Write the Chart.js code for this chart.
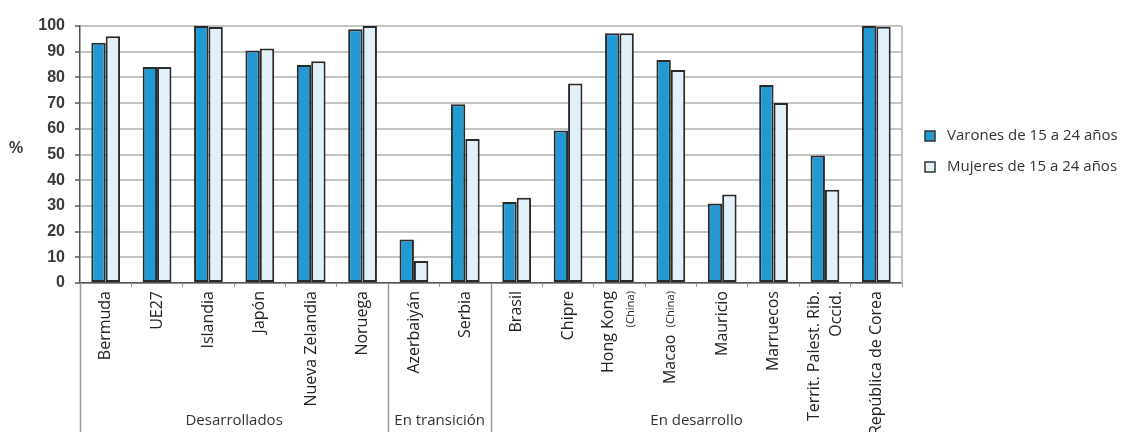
<!DOCTYPE html>
<html>
<head>
<meta charset="utf-8">
<script src="https://cdn.jsdelivr.net/npm/chart.js@4/dist/chart.umd.min.js"></script>
<style>
  body { margin: 0; background: #fff; }
  #wrap { width: 1122px; height: 432px; }
</style>
</head>
<body>
<div id="wrap"><canvas id="grafico"></canvas></div>
<script>
// categorías (cada elemento = líneas de la etiqueta; "(China)" va en letra pequeña)
const categorias = [
    ['Bermuda'], ['UE27'], ['Islandia'], ['Japón'], ['Nueva Zelandia'], ['Noruega'],
    ['Azerbaiyán'], ['Serbia'],
    ['Brasil'], ['Chipre'], ['Hong Kong', '(China)'], ['Macao (China)'], ['Mauricio'],
    ['Marruecos'], ['Territ. Palest. Rib.', 'Occid.'], ['República de Corea']
];
const varones = [93.5, 84, 100, 90.5, 84.8, 98.7, 16.9, 69.6, 31.5, 59.3, 97.2, 86.8, 30.9, 77, 49.6, 100];
const mujeres = [96, 84, 99.6, 91.2, 86.3, 100, 8.6, 56, 33.2, 77.6, 97.2, 82.9, 34.4, 70, 36.3, 99.7];
const grupos = ['Desarrollados', 'En transición', 'En desarrollo'];
const gruposInicio = [0, 6, 8];   // primer índice de cada grupo
const seriesNombres = ['Varones de 15 a 24 años', 'Mujeres de 15 a 24 años'];
const colores = ['#2299d3', '#e1f0f9'];

const fuente = '"Open Sans", "Noto Sans", sans-serif';

function dibujarLinea(ctx, texto, size) {
    // texto alineado a la derecha (arriba tras rotar), "(China)" más pequeño
    const partes = texto.split(/(\(China\))/).filter(p => p.length);
    let off = 0;
    for (let i = partes.length - 1; i >= 0; i--) {
        const p = partes[i];
        const s = p === '(China)' ? size * 0.7 : size;
        ctx.font = s + 'px ' + fuente;
        ctx.fillText(p, -off, 0);
        off += ctx.measureText(p).width + (p === '(China)' ? 3 : 0);
    }
}

const extras = {
    id: 'extras',
    afterDraw(chart) {
        const ctx = chart.ctx;
        const area = chart.chartArea;
        const x = chart.scales.x;
        const H = chart.height;
        ctx.save();

        // borde derecho del área
        ctx.strokeStyle = '#c4c4c4';
        ctx.lineWidth = 2;
        ctx.beginPath();
        ctx.moveTo(area.right, area.top);
        ctx.lineTo(area.right, area.bottom);
        ctx.stroke();

        // "%"
        ctx.fillStyle = '#3a3a3a';
        ctx.font = 'bold 16px "Liberation Sans", Arial, sans-serif';
        ctx.textAlign = 'left';
        ctx.textBaseline = 'middle';
        ctx.fillText('%', 9, 149);

        // separadores de grupos
        const limites = gruposInicio.map(i => i === 0 ? area.left :
            (x.getPixelForValue(i - 1) + x.getPixelForValue(i)) / 2);
        ctx.strokeStyle = '#9a9a9a';
        ctx.lineWidth = 1.5;
        limites.forEach(px => {
            ctx.beginPath();
            ctx.moveTo(Math.round(px) + 0.5, area.bottom);
            ctx.lineTo(Math.round(px) + 0.5, H);
            ctx.stroke();
        });

        // etiquetas de categorías (verticales)
        ctx.fillStyle = '#222';
        ctx.textAlign = 'right';
        ctx.textBaseline = 'middle';
        categorias.forEach((lineas, i) => {
            const cx = x.getPixelForValue(i);
            lineas.forEach((ln, j) => {
                const dx = (j - (lineas.length - 1) / 2) * 22;
                ctx.save();
                ctx.translate(cx + dx, area.bottom + 8);
                ctx.rotate(-Math.PI / 2);
                dibujarLinea(ctx, ln, 16);
                ctx.restore();
            });
        });

        // etiquetas de grupos
        ctx.font = '15px ' + fuente;
        ctx.textAlign = 'center';
        ctx.fillStyle = '#333';
        grupos.forEach((g, k) => {
            const a = limites[k];
            const b = k + 1 < limites.length ? limites[k + 1] : area.right;
            ctx.fillText(g, (a + b) / 2, 421);
        });

        // leyenda
        ctx.textAlign = 'left';
        seriesNombres.forEach((n, k) => {
            const y = 136 + k * 31;
            ctx.fillStyle = colores[k];
            ctx.fillRect(925, y - 5, 10, 10);
            ctx.strokeStyle = '#333';
            ctx.lineWidth = 1.5;
            ctx.strokeRect(925, y - 5, 10, 10);
            ctx.fillStyle = '#333';
            ctx.font = '15px ' + fuente;
            ctx.fillText(n, 947, y);
        });
        ctx.restore();
    }
};

new Chart(document.getElementById('grafico'), {
    type: 'bar',
    data: {
        labels: categorias.map(c => c.join(' ')),
        datasets: [{
            label: seriesNombres[0],
            data: varones,
            backgroundColor: colores[0],
            borderColor: '#2a2a2a',
            borderWidth: 2,
            borderSkipped: false,
            barPercentage: 1,
            categoryPercentage: 0.56
        }, {
            label: seriesNombres[1],
            data: mujeres,
            backgroundColor: colores[1],
            borderColor: '#2a2a2a',
            borderWidth: 2,
            borderSkipped: false,
            barPercentage: 1,
            categoryPercentage: 0.56
        }]
    },
    options: {
        responsive: true,
        maintainAspectRatio: false,
        animation: false,
        layout: { padding: { top: 26, right: 220, left: 0, bottom: 0 } },
        plugins: { legend: { display: false }, tooltip: { enabled: false } },
        scales: {
            x: {
                grid: { offset: true, drawOnChartArea: false, drawTicks: true, tickLength: 4, color: '#999' },
                ticks: { display: false },
                border: { color: '#555', width: 1.5 },
                afterFit: s => { s.height = 149; }
            },
            y: {
                min: 0,
                max: 100,
                ticks: {
                    stepSize: 10,
                    padding: 10,
                    color: '#3a3a3a',
                    font: { family: '"Liberation Sans", Arial, sans-serif', size: 16, weight: 'bold' }
                },
                grid: { color: '#c4c4c4', lineWidth: 2, tickLength: 5, tickColor: '#555', tickWidth: 1.5 },
                border: { color: '#555', width: 1.5 },
                afterFit: s => { s.width = 80; }
            }
        }
    },
    plugins: [extras]
});
</script>
</body>
</html>
